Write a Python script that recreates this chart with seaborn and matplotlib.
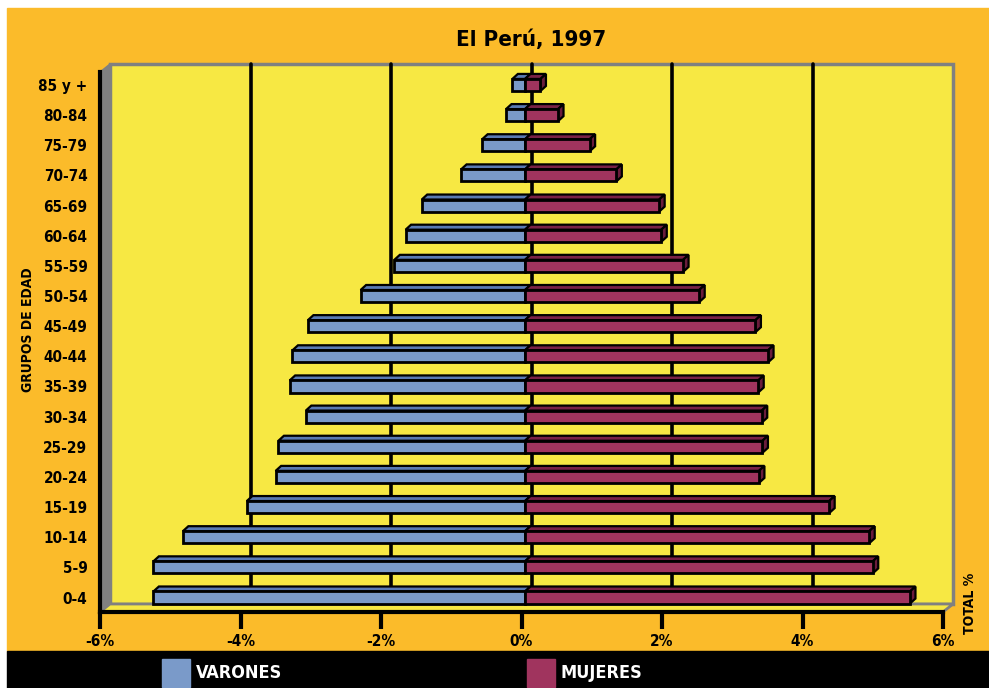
import matplotlib
matplotlib.use("Agg")
import matplotlib.pyplot as plt
from matplotlib.patches import Rectangle, Polygon
from matplotlib.transforms import ScaledTranslation, IdentityTransform
import seaborn as sns
import pandas as pd

# ---------------- data ----------------
edades = ["85 y +", "80-84", "75-79", "70-74", "65-69", "60-64", "55-59", "50-54",
          "45-49", "40-44", "35-39", "30-34", "25-29", "20-24", "15-19", "10-14",
          "5-9", "0-4"]
varones = [0.18, 0.27, 0.61, 0.91, 1.47, 1.70, 1.86, 2.34, 3.09, 3.31, 3.35, 3.12,
           3.51, 3.55, 3.96, 4.87, 5.29, 5.29]
mujeres = [0.22, 0.47, 0.92, 1.30, 1.91, 1.94, 2.25, 2.48, 3.28, 3.46, 3.32, 3.37,
           3.38, 3.33, 4.33, 4.90, 4.95, 5.48]
xticks = [-6, -4, -2, 0, 2, 4, 6]
xticklabels = ["-6%", "-4%", "-2%", "0%", "2%", "4%", "6%"]
titulo = "El Perú, 1997"
series = ["VARONES", "MUJERES"]

C_BLUE = "#7A9AC9"
C_RED = "#A0345E"
C_BLUE_TOP = "#5A7AB2"
C_RED_TOP = "#7A2246"
C_RED_SIDE = "#6A1C3B"
C_YELLOW = "#F7E843"
C_ORANGE = "#FBBB2A"
C_GREY = "#808080"

sns.set_theme(style="white")
plt.rcParams["font.family"] = ["DejaVu Sans"]
plt.rcParams["font.stretch"] = "condensed"
plt.rcParams["text.color"] = "black"
plt.rcParams["xtick.color"] = "black"
plt.rcParams["ytick.color"] = "black"

W, H, DPI = 989, 688, 100
fig = plt.figure(figsize=(W / DPI, H / DPI), dpi=DPI, facecolor="white")

def fr(x0, y0, x1, y1):
    return (x0 / W, 1 - y1 / H, (x1 - x0) / W, (y1 - y0) / H)

x0, y0, w, h = fr(7, 8, 989, 651)
fig.patches.append(Rectangle((x0, y0), w, h, transform=fig.transFigure, color=C_ORANGE, zorder=-10))
x0, y0, w, h = fr(7, 651, 989, 688)
fig.patches.append(Rectangle((x0, y0), w, h, transform=fig.transFigure, color="black", zorder=-10))

ax = fig.add_axes(fr(100, 72, 943, 612))
ax.patch.set_visible(False)

df = pd.DataFrame({
    "edad": edades * 2,
    "valor": [-v for v in varones] + mujeres,
    "sexo": ["VARONES"] * len(edades) + ["MUJERES"] * len(edades),
})
sns.barplot(data=df, x="valor", y="edad", hue="sexo", order=edades, hue_order=series,
            palette=[C_BLUE, C_RED], saturation=1, dodge=False, width=0.4, orient="h",
            edgecolor="black", linewidth=2.0, legend=False, ax=ax)
bars = [p for p in ax.patches if abs(p.get_height() - 0.4) < 1e-6 and p.get_width() != 0]

ax.set_xlim(-6, 6)
ax.set_ylim(17.48, -0.43)

BACK = (10, 8)
BAR = (3.5, 0)
DEPTH = (5.5, 5)

def off(dx, dy):
    return ScaledTranslation(dx / DPI, dy / DPI, fig.dpi_scale_trans)

ax.add_patch(Rectangle((0, 0), 1, 1, transform=ax.transAxes + off(*BACK),
                       facecolor=C_YELLOW, edgecolor=C_GREY, lw=2.5, zorder=0, clip_on=False))
for xv in [-4, -2, 0, 2, 4]:
    ln = ax.axvline(xv, 0, 1, color="black", lw=2.6, zorder=1)
    ln.set_transform(ln.get_transform() + off(*BACK))
    ln.set_clip_on(False)

fig.canvas.draw()
ta = ax.transAxes
bl = ta.transform((0, 0)); tl = ta.transform((0, 1)); br = ta.transform((1, 0))
bx, by = BACK
ax.add_patch(Polygon([bl, tl, (tl[0] + bx, tl[1] + by), (bl[0] + bx, bl[1] + by)],
                     closed=True, transform=IdentityTransform(), facecolor=C_GREY,
                     edgecolor=C_GREY, lw=1, zorder=2, clip_on=False))
ax.add_patch(Polygon([bl, br, (br[0] + bx, br[1] + by), (bl[0] + bx, bl[1] + by)],
                     closed=True, transform=IdentityTransform(), facecolor=C_YELLOW,
                     edgecolor=C_GREY, lw=2, zorder=2, clip_on=False))

dx, dy = DEPTH
tr = ax.transData + off(*BAR)
for p in bars:
    p.set_transform(tr)
    p.set_clip_on(False)
    p.set_zorder(4)
    xa, ya = p.get_x(), p.get_y()
    xb, yb = xa + p.get_width(), ya + p.get_height()
    (X0, Ya) = tr.transform((min(xa, xb), ya))
    (X1, Yb) = tr.transform((max(xa, xb), yb))
    Ytop, Ybot = max(Ya, Yb), min(Ya, Yb)
    neg = p.get_width() < 0
    top_c = C_BLUE_TOP if neg else C_RED_TOP
    ax.add_patch(Polygon([(X0, Ytop), (X1, Ytop), (X1 + dx, Ytop + dy), (X0 + dx, Ytop + dy)],
                         closed=True, transform=IdentityTransform(), facecolor=top_c,
                         edgecolor="black", lw=1.6, zorder=3.5, clip_on=False))
    if not neg:
        ax.add_patch(Polygon([(X1, Ybot), (X1, Ytop), (X1 + dx, Ytop + dy), (X1 + dx, Ybot + dy)],
                             closed=True, transform=IdentityTransform(), facecolor=C_RED_SIDE,
                             edgecolor="black", lw=1.6, zorder=3.5, clip_on=False))

for s in ["top", "right"]:
    ax.spines[s].set_visible(False)
for s in ["left", "bottom"]:
    ax.spines[s].set_color("black")
    ax.spines[s].set_linewidth(3)
    ax.spines[s].set_zorder(6)

ax.set_xticks(xticks)
ax.set_xticklabels(xticklabels, fontsize=11, fontweight="bold")
ax.tick_params(axis="x", direction="out", length=12, width=3, color="black", pad=4, bottom=True)
ax.tick_params(axis="y", length=0, pad=9)
for t in ax.get_yticklabels():
    t.set_fontsize(11)
    t.set_fontweight("bold")
ax.set_xlabel("")
ax.set_ylabel("")
ax.grid(False)

fig.text(531 / W, 1 - 40 / H, titulo, ha="center", va="center", fontsize=16, fontweight="bold")
fig.text(28 / W, 1 - 330 / H, "GRUPOS DE EDAD", rotation=90, ha="center", va="center",
         fontsize=10, fontweight="bold")
fig.text(970 / W, 1 - 603 / H, "TOTAL %", rotation=90, ha="center", va="center",
         fontsize=10, fontweight="bold")

for (lx, col, lab) in [(162, C_BLUE, series[0]), (527, C_RED, series[1])]:
    x0, y0, w, h = fr(lx, 659, lx + 28, 687)
    fig.patches.append(Rectangle((x0, y0), w, h, transform=fig.transFigure, color=col, zorder=1))
    fig.text((lx + 34) / W, 1 - 673 / H, lab, color="white", ha="left", va="center",
             fontsize=13, fontweight="bold")

fig.savefig("out.png", dpi=DPI, facecolor="white")
